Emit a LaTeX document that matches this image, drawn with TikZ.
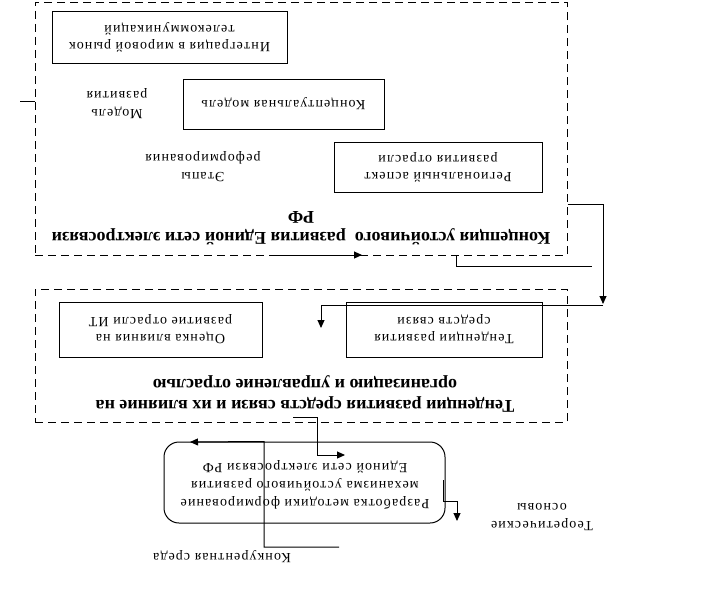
\documentclass[tikz,border=0pt]{standalone}
\usepackage{fontspec}
\setmainfont{Liberation Serif}
\newfontfamily\spaced[LetterSpace=8]{Liberation Serif}
\usetikzlibrary{arrows.meta}
\begin{document}
\begin{tikzpicture}[x=1pt,y=-1pt,line width=1pt,
  frame/.style={draw,dash pattern=on 8pt off 5pt,inner sep=0pt},
  box/.style={draw,rotate=180,align=center,inner sep=0pt,font=\spaced\fontsize{14}{17}\selectfont},
  lbl/.style={rotate=180,align=center,inner sep=0pt,font=\spaced\fontsize{14}{18}\selectfont},
  ttl/.style={rotate=180,align=center,inner sep=0pt,font=\bfseries\fontsize{18}{21}\selectfont},
  arr/.style={-{Triangle[length=8pt,width=7pt]}}]
\useasboundingbox (0,0) rectangle (727,605);
% frames
\node[frame,minimum width=532pt,minimum height=253pt] (frameA) at (301,128.5) {};
\node[frame,minimum width=532pt,minimum height=133pt] (frameB) at (301,355.5) {};
% frame A content
\node[box,minimum width=235pt,minimum height=52pt] (integ) at (169.5,37) {Интеграция в мировой рынок\\телекоммуникаций};
\node[box,minimum width=201pt,minimum height=50pt] (concept) at (283.5,104) {Концептуальная модель};
\node[box,minimum width=208pt,minimum height=50pt] (region) at (438,167) {Региональный аспект\\развития отрасли};
\node[lbl] (model) at (117,104) {Модель\\развития};
\node[lbl] (etapy) at (203,167) {Этапы\\реформирования};
\node[ttl] (title1) at (301,228) {Концепция устойчивого\ \ развития Единой сети электросвязи\\РФ};
% frame B content
\node[box,minimum width=203pt,minimum height=55pt] (ocenka) at (160.5,329.5) {Оценка влияния на\\развитие отрасли ИТ};
\node[box,minimum width=196pt,minimum height=55pt] (tend) at (444,329.5) {Тенденции развития\\средств связи};
\node[ttl] (title2) at (305,394) {Тенденции развития средств связи и их влияние на\\организацию и управление отраслью};
% bottom
\node[draw,rounded corners=15pt,minimum width=281pt,minimum height=81pt,inner sep=0pt] (razrab) at (304.5,482.5) {};
\node[lbl,font=\spaced\fontsize{14}{18}\selectfont] (razrabtxt) at (305,485) {Разработка методики формирование\\механизма устойчивого развития\\Единой сети электросвязи РФ};
\node[lbl] (konk) at (222,557) {Конкурентная среда};
\node[lbl] (teor) at (542,517) {Теоретические\\основы};
% connectors
\coordinate (tickL) at (20,101);
\draw (tickL) -- (tickL -| frameA.west);
\coordinate (r1) at (603,204);
\coordinate (r2) at (603,304);
\draw[arr] (frameA.east |- r1) -- (r1) -- (r2);
\coordinate (r3) at (603,305);
\coordinate (r4) at (321,305);
\coordinate (r5) at (321,328);
\draw[arr] (r3) -- (r4) -- (r5);
\coordinate (b1) at (456,266);
\coordinate (b2) at (592,266);
\draw (frameA.south -| b1) -- (b1) -- (b2);
\coordinate (b3) at (277,255);
\coordinate (b4) at (362,255);
\draw[arr] (b3) -- (b4);
\coordinate (m1) at (293,417);
\coordinate (m2) at (317,417);
\coordinate (m3) at (317,455);
\coordinate (m4) at (345,455);
\draw[arr] (m1) -- (m2) -- (m3) -- (m4);
\coordinate (k1) at (339,547);
\coordinate (k2) at (264,547);
\coordinate (k3) at (190,442);
\draw[arr] (k1) -- (k2) -- (k2 |- razrab.north) -- (k3);
\coordinate (t1) at (443,480);
\coordinate (t2) at (443,501);
\coordinate (t3) at (457,501);
\coordinate (t4) at (457,521);
\draw[arr] (t1) -- (t2) -- (t3) -- (t4);
\end{tikzpicture}
\end{document}
